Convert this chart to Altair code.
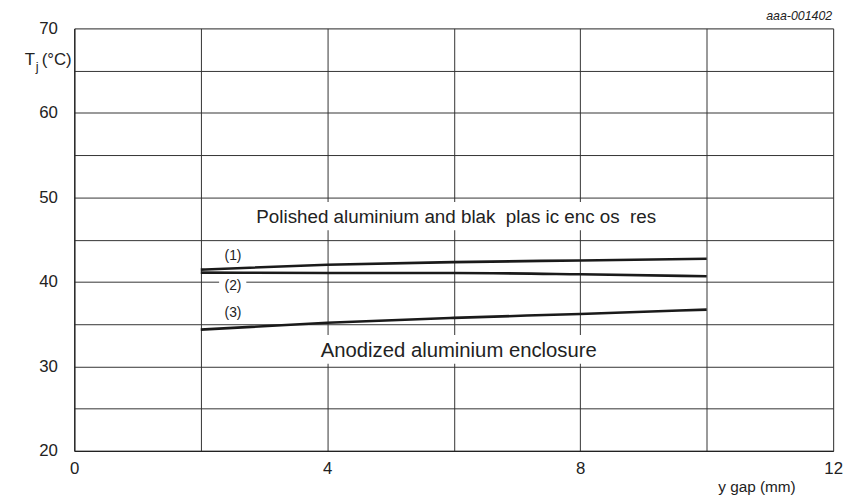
import altair as alt
import pandas as pd

# ---- data ----
gap_mm = [2, 4, 6, 8, 10]
curve1 = [41.45, 42.03, 42.34, 42.54, 42.73]
curve2 = [41.10, 41.05, 41.05, 40.90, 40.66]
curve3 = [34.35, 35.16, 35.74, 36.21, 36.72]
curve_names = ["(1)", "(2)", "(3)"]

label_x = [2.51, 2.51, 2.51]
label_y = [43.05, 39.53, 36.33]

NB = "\u00a0"
polished_text = "Polished aluminium and blak" + NB * 2 + "plas ic enc os" + NB * 2 + "res"
anodized_text = "Anodized aluminium enclosure"
polished_x, polished_y = 6.04, 47.65
anodized_x, anodized_y = 6.08, 31.87

# white backgrounds that interrupt the grid behind labels
box_x1 = [2.86, 3.88, 2.29]
box_x2 = [9.22, 8.28, 2.72]
box_y1 = [46.1, 30.3, 38.9]
box_y2 = [49.45, 33.7, 40.2]

x_ticks = [0, 2, 4, 6, 8, 10, 12]
y_ticks = [20, 25, 30, 35, 40, 45, 50, 55, 60, 65, 70]

W, H = 767, 427
FONT = "Liberation Sans"

rows = []
for name, ys in zip(curve_names, [curve1, curve2, curve3]):
    for x, y in zip(gap_mm, ys):
        rows.append({"curve": name, "gap": x, "tj": y})
lines_df = pd.DataFrame(rows)

xs = alt.Scale(domain=[0, 12], nice=False, zero=False)
ys = alt.Scale(domain=[20, 70], nice=False, zero=False)

x_axis = alt.Axis(values=x_ticks, grid=True, ticks=False, title=None, format="d",
                  labelExpr="datum.value % 4 == 0 ? datum.label : ''",
                  labelFontSize=17, labelFont=FONT, labelColor="#222",
                  labelPadding=10, labelFlush=False,
                  gridColor="#333", gridOpacity=1, gridWidth=1,
                  domainColor="#222", domainWidth=1.2)
y_axis = alt.Axis(values=y_ticks, grid=True, ticks=False, title=None, format="d",
                  labelExpr="datum.value % 10 == 0 ? datum.label : ''",
                  labelFontSize=17, labelFont=FONT, labelColor="#222",
                  labelPadding=17, labelFlush=False,
                  gridColor="#333", gridOpacity=1, gridWidth=1,
                  domainColor="#222", domainWidth=1.2)

base_lines = alt.Chart(lines_df).mark_line(
    color="#1a1a1a", strokeWidth=2.6, interpolate="monotone"
).encode(
    x=alt.X("gap:Q", scale=xs, axis=x_axis),
    y=alt.Y("tj:Q", scale=ys, axis=y_axis),
    detail="curve:N",
)

boxes = alt.Chart(pd.DataFrame({"x1": box_x1, "x2": box_x2,
                                "y1": box_y1, "y2": box_y2})).mark_rect(
    color="white"
).encode(
    x=alt.X("x1:Q", scale=xs), x2="x2:Q",
    y=alt.Y("y1:Q", scale=ys), y2="y2:Q",
)

curve_labels = alt.Chart(pd.DataFrame({"t": curve_names, "x": label_x,
                                       "y": label_y})).mark_text(
    font=FONT, fontSize=14, color="#222", align="center", baseline="middle"
).encode(x=alt.X("x:Q", scale=xs), y=alt.Y("y:Q", scale=ys), text="t:N")

polished = alt.Chart(pd.DataFrame({"t": [polished_text], "x": [polished_x],
                                   "y": [polished_y]})).mark_text(
    font=FONT, fontSize=19, color="#222", align="center", baseline="middle"
).encode(x=alt.X("x:Q", scale=xs), y=alt.Y("y:Q", scale=ys), text="t:N")

anodized = alt.Chart(pd.DataFrame({"t": [anodized_text], "x": [anodized_x],
                                   "y": [anodized_y]})).mark_text(
    font=FONT, fontSize=20.5, color="#222", align="center", baseline="middle"
).encode(x=alt.X("x:Q", scale=xs), y=alt.Y("y:Q", scale=ys), text="t:N")

# outer annotations (axis titles, figure code)
ann = pd.DataFrame({"t": ["x"]})
t_main = alt.Chart(ann).mark_text(font=FONT, fontSize=17, color="#222",
                                  align="left", baseline="middle").encode(
    x=alt.value(-50), y=alt.value(32), text=alt.value("T"))
t_sub = alt.Chart(ann).mark_text(font=FONT, fontSize=13, color="#222",
                                 align="left", baseline="middle").encode(
    x=alt.value(-39), y=alt.value(39), text=alt.value("j"))
t_unit = alt.Chart(ann).mark_text(font=FONT, fontSize=17, color="#222",
                                  align="left", baseline="middle").encode(
    x=alt.value(-33), y=alt.value(32), text=alt.value("(°C)"))
x_title = alt.Chart(ann).mark_text(font=FONT, fontSize=15.5, color="#222",
                                   align="center", baseline="middle").encode(
    x=alt.value(690), y=alt.value(H + 37), text=alt.value("y gap (mm)"))
code = alt.Chart(ann).mark_text(font=FONT, fontSize=12.5, fontStyle="italic",
                                color="#222", align="right",
                                baseline="middle").encode(
    x=alt.value(W - 1), y=alt.value(-12), text=alt.value("aaa-001402"))

chart = alt.layer(
    base_lines, boxes, curve_labels, polished, anodized,
    t_main, t_sub, t_unit, x_title, code
).properties(
    width=W, height=H,
    autosize=alt.AutoSizeParams(type="none"),
    padding={"left": 67, "top": 18, "right": 14, "bottom": 45},
).configure_view(
    stroke="#222", strokeWidth=1.2
).configure(background="white")

chart.save("out.html", embed_options={"renderer": "svg", "actions": False})
